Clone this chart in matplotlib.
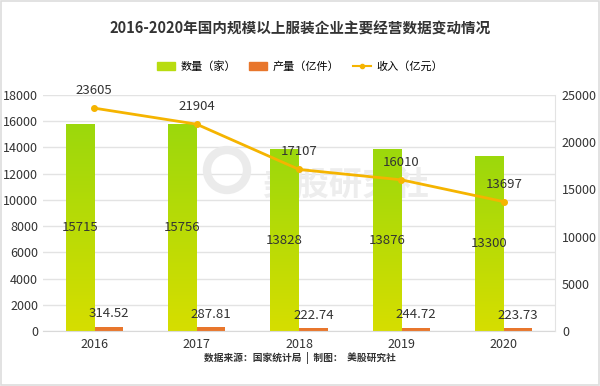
import matplotlib.pyplot as plt
import numpy as np
from matplotlib.colors import LinearSegmentedColormap
from matplotlib.lines import Line2D
from matplotlib.patches import Patch, Circle

plt.rcParams['font.family'] = ['Noto Sans CJK SC', 'DejaVu Sans']

years = ["2016", "2017", "2018", "2019", "2020"]
count = [15715, 15756, 13828, 13876, 13300]       # 数量（家）
output = [314.52, 287.81, 222.74, 244.72, 223.73]  # 产量（亿件）
revenue = [23605, 21904, 17107, 16010, 13697]     # 收入（亿元）

green_top = "#9cd80c"
green_bot = "#d6de00"
orange = "#e8762c"
gold = "#f5b400"
txt = "#333333"

fig = plt.figure(figsize=(6, 3.86), dpi=100)
fig.patches.append(plt.Rectangle((0.002, 0.002), 0.996, 0.996, transform=fig.transFigure,
                                 fill=False, edgecolor="#dddddd", linewidth=1.2))
ax = fig.add_axes([0.0717, 0.1425, 0.8533, 0.6115])
ax2 = ax.twinx()

x = np.arange(len(years))
w = 0.28
bars = ax.bar(x - w / 2, count, w, color=green_bot, zorder=2)
ax.bar(x + w / 2, output, w, color=orange, zorder=2)

# vertical gradient on the green bars
cmap = LinearSegmentedColormap.from_list("g", [green_bot, green_top])
grad = np.linspace(0, 1, 256).reshape(-1, 1)
for b in bars:
    ax.imshow(grad, extent=[b.get_x(), b.get_x() + b.get_width(), 0, b.get_height()],
              origin="lower", aspect="auto", cmap=cmap, zorder=2.1)

for xi, v in zip(x, count):
    ax.text(xi - w / 2, v / 2, str(v), ha="center", va="center", fontsize=9.5, color=txt, zorder=3)
for xi, v in zip(x, output):
    ax.text(xi + w / 2, v + 500, f"{v:.2f}", ha="center", va="bottom", fontsize=9.5, color=txt, zorder=3)

ax.set_xlim(-0.5, len(years) - 0.5)
ax.set_ylim(0, 18000)
ax.set_yticks(range(0, 18001, 2000))
ax.set_xticks(x)
ax.set_xticklabels(years)
ax.grid(axis="y", color="#e3e3e3", linewidth=1, zorder=0)
ax.set_axisbelow(True)

# faint watermark behind the bars
ax.add_patch(Circle((2.27, 2.16), 0.2, transform=fig.dpi_scale_trans, fill=False,
                    edgecolor="#ebebeb", linewidth=6, zorder=1))
ax.text(0.575, 0.52, "美股研究社", transform=fig.transFigure, ha="center", va="center",
        fontsize=24, color="#ededed", fontweight="bold", zorder=1)

ax2.plot(x, revenue, color=gold, linewidth=2, marker="o", markersize=4, zorder=4)
for xi, v in zip(x, revenue):
    ax2.annotate(str(v), (xi, v), xytext=(0, 8), textcoords="offset points",
                 ha="center", va="bottom", fontsize=9.5, color=txt)
ax2.set_ylim(0, 25000)
ax2.set_yticks(range(0, 25001, 5000))

for a in (ax, ax2):
    for s in ("top", "left", "bottom", "right"):
        a.spines[s].set_visible(False)
    a.tick_params(length=0, labelsize=9, colors=txt)
ax.spines["bottom"].set_visible(True)
ax.spines["bottom"].set_color("#d9d9d9")
ax2.spines["right"].set_visible(True)
ax2.spines["right"].set_color("#e3e3e3")
ax.tick_params(axis="x", pad=5)
ax2.tick_params(axis="y", pad=5)

fig.text(0.5, 0.925, "2016-2020年国内规模以上服装企业主要经营数据变动情况",
         ha="center", va="center", fontsize=10.5, fontweight="bold", color="#333333")

handles = [Patch(color="#b8dc10"), Patch(color=orange),
           Line2D([0], [0], color=gold, linewidth=1.5, marker="o", markersize=3)]
labels = ["数量（家）", "产量（亿件）", "收入（亿元）"]
fig.legend(handles, labels, loc="center", bbox_to_anchor=(0.5, 0.828), ncol=3, frameon=False,
           fontsize=8, handlelength=1.6, handleheight=0.7, columnspacing=1.2, handletextpad=0.5)

fig.text(0.5, 0.072, "数据来源：国家统计局  |  制图：  美股研究社", ha="center", va="center",
         fontsize=7, fontweight="bold", color="#333333")

fig.savefig("out.png", dpi=100)
